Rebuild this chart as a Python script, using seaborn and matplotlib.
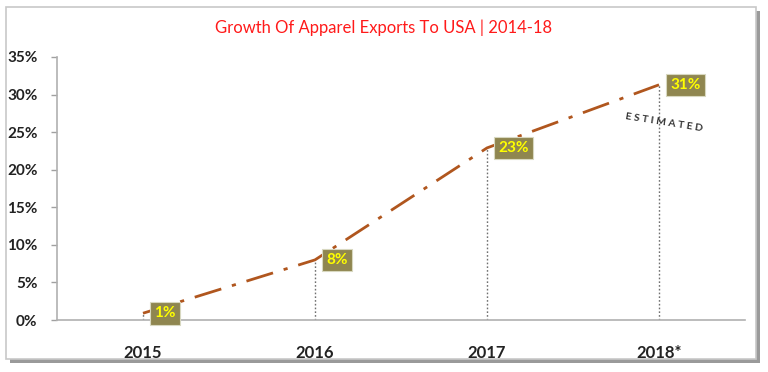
import matplotlib
matplotlib.use("Agg")
import matplotlib.pyplot as plt
import seaborn as sns
import pandas as pd
from matplotlib.patches import Rectangle

years = ["2015", "2016", "2017", "2018*"]
growth = [0.9, 8.0, 22.9, 31.3]
labels = ["1%", "8%", "23%", "31%"]
yticks = [0, 5, 10, 15, 20, 25, 30, 35]
title = "Growth Of Apparel Exports To USA | 2014-18"

sns.set_theme(style="white")
plt.rcParams["font.family"] = ["Lato", "DejaVu Sans"]

df = pd.DataFrame({"pos": list(range(len(years))), "growth": growth})

fig = plt.figure(figsize=(7.68, 3.72), dpi=100)
# outer frame with shadow
fig.patches.append(Rectangle((10 / 768, 9 / 372), 750 / 768, 352 / 372, transform=fig.transFigure,
                             facecolor="#9a9a9a", edgecolor="none", zorder=-3))
fig.patches.append(Rectangle((6 / 768, 13 / 372), 750 / 768, 352 / 372, transform=fig.transFigure,
                             facecolor="white", edgecolor="#c8c8c8", linewidth=1.2, zorder=-2))

ax = fig.add_axes([57 / 768, 52 / 372, 688 / 768, 263 / 372])
ax.set_facecolor("none")
sns.lineplot(data=df, x="pos", y="growth", ax=ax, color="#B0561E", linewidth=2.0,
             dashes=False, legend=False)
ax.lines[0].set_dashes([10, 4, 1.5, 4])
ax.lines[0].set_dash_capstyle("butt")

ax.vlines(df["pos"], 0, df["growth"], colors="#707070", linestyles=(0, (1.2, 1.5)), linewidth=1.0)

for xi, yi, lab in zip(df["pos"], growth, labels):
    ax.annotate(lab, (xi, yi), xytext=(8, 0), textcoords="offset points", ha="left", va="center",
                fontsize=11, fontweight="bold", color="#FFFF00",
                bbox=dict(boxstyle="square,pad=0.28", facecolor="#8F8650", edgecolor="#d8d8c0", linewidth=0.8))

ax.text(3.03, 26.2, "E S T I M A T E D", rotation=-9, ha="center", va="center",
        fontsize=7.5, fontweight="bold", color="#333333")

ax.set_xlim(-0.5, 3.5)
ax.set_ylim(0, 35)
ax.set_xticks(df["pos"])
ax.set_xticklabels(years, fontsize=12, fontweight="bold", color="#222222")
ax.set_yticks(yticks)
ax.set_yticklabels([f"{t}%" for t in yticks], fontsize=11, fontweight="bold", color="#222222")
ax.tick_params(axis="y", left=True, length=4, width=1, color="#a0a0a0", pad=10)
ax.tick_params(axis="x", bottom=False, pad=12)
ax.set_xlabel("")
ax.set_ylabel("")
for s in ["top", "right"]:
    ax.spines[s].set_visible(False)
for s in ["left", "bottom"]:
    ax.spines[s].set_color("#b0b0b0")
    ax.spines[s].set_linewidth(1.2)

fig.text(384 / 768, 1 - 28 / 372, title, ha="center", va="center", fontsize=12, color="#FF1A1A")

fig.savefig("out.png", dpi=100)
